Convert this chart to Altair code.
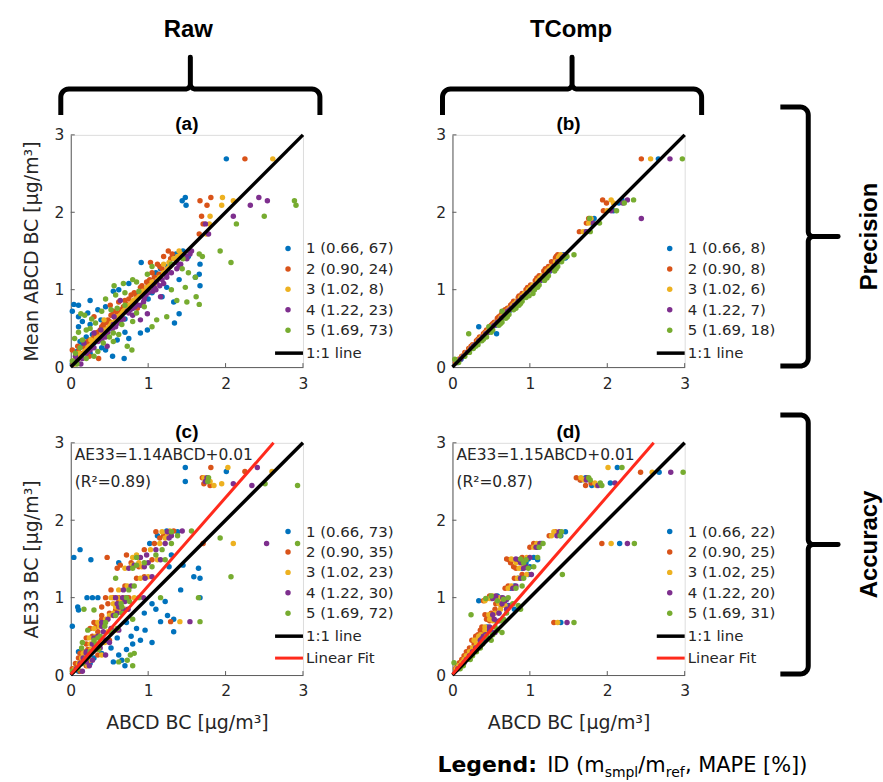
import math
import altair as alt
import pandas as pd

# ---------------- data ----------------
UNIT_IDS = ["1", "2", "3", "4", "5"]
UNIT_COLORS = ["#0072BD", "#D95319", "#EDB120", "#7E2F8E", "#77AC30"]

# (a) Raw, precision: y = mean ABCD BC, one x list per unit
A_Y = [2.69, 2.19, 2.15, 2.09, 1.95, 1.85, 1.72, 1.50, 1.46, 1.40,
       1.35, 1.33, 1.27, 1.22, 1.20, 1.16, 1.10, 1.08, 1.05, 1.03,
       0.98, 0.96, 0.91, 0.86, 0.84, 0.81, 0.80, 0.76, 0.74, 0.72,
       0.69, 0.65, 0.62, 0.61, 0.57, 0.55, 0.52, 0.48, 0.45, 0.44,
       0.39, 0.35, 0.31, 0.27, 0.22, 0.18, 0.14, 0.11, 0.08, 0.04,
       1.43, 1.30, 1.13, 1.00, 0.93, 0.88, 0.78, 0.70, 0.67, 0.59,
       0.50, 0.42, 0.37, 0.33, 0.25, 0.20]
A_U1 = [2.01, 1.48, 1.44, 1.49, None, None, None, 1.45, 1.36, 1.30,
        0.91, 1.67, 1.16, 1.10, 1.66, 1.61, 1.00, 0.75, 1.67, 1.24,
        0.55, 1.05, 1.18, 0.25, 1.33, 0.04, 0.10, 0.80, 0.35, 0.02,
        1.40, 0.10, 0.70, 0.39, 1.34, 0.25, 0.10, 0.99, 0.70, 0.90,
        0.20, 0.60, 0.30, 0.15, 0.45, 0.25, 0.54, 0.69, 0.05, 0.02,
        1.52, 1.25, 1.40, 0.62, 0.85, 1.00, 0.45, 0.22, 0.60, 0.15,
        0.50, 0.28, 0.75, 0.12, 0.40, 0.08]
A_U2 = [2.25, 1.81, 1.67, 1.76, 1.69, 1.71, 1.66, 1.26, 1.31, 1.29,
        1.03, 1.12, 1.18, 1.05, 1.14, 1.08, 0.98, 1.00, 0.92, 0.90,
        0.95, 0.82, 0.85, 0.70, 0.62, 0.72, 0.51, 0.86, 0.65, 0.55,
        0.62, 0.30, 0.58, 0.48, 0.45, 0.42, 0.40, 0.38, 0.35, 0.32,
        0.30, 0.25, 0.20, 0.09, 0.02, 0.12, 0.24, 0.36, 0.05, 0.03,
        1.20, 1.15, 1.02, 0.93, 0.78, 0.75, 0.68, 0.60, 0.52, 0.50,
        0.43, 0.36, 0.30, 0.22, 0.18, 0.10]
A_U3 = [2.61, 1.96, 2.10, 1.95, 1.80, 1.79, 1.75, 1.40, 1.42, 1.33,
        1.27, 1.20, 1.25, 1.20, 1.22, 1.15, 1.05, 1.09, 1.02, 0.98,
        0.93, 0.90, 0.88, 0.81, 0.80, 0.78, 0.75, 0.72, 0.70, 0.68,
        0.66, 0.60, 0.62, 0.43, 0.53, 0.52, 0.50, 0.44, 0.45, 0.40,
        0.36, 0.26, 0.28, 0.24, 0.20, 0.11, 0.12, 0.10, 0.04, 0.05,
        1.38, 1.28, 1.12, 1.00, 0.92, 0.84, 0.76, 0.67, 0.64, 0.57,
        0.48, 0.41, 0.33, 0.30, 0.22, 0.18]
A_U4 = [None, 2.43, 2.54, 2.32, 2.10, 1.74, 1.78, 1.56, 1.54, 1.50,
        1.37, 1.42, 1.37, 1.30, 1.24, 1.24, 1.11, 1.20, 1.15, 1.08,
        1.06, 1.00, 1.16, 0.64, 0.94, 0.85, 0.90, 0.80, 0.77, 0.73,
        0.99, 0.56, 0.68, 0.90, 0.62, 0.55, 0.58, 0.39, 0.48, 0.30,
        0.45, 0.40, 0.17, 0.47, 0.25, 0.20, 0.06, 0.15, 0.08, 0.13,
        1.48, 1.40, 1.18, 1.10, 0.97, 0.95, 0.83, 0.75, 0.80, 0.64,
        0.54, 0.46, 0.40, 0.35, 0.30, 0.22]
A_U5 = [None, None, 2.89, 2.91, 2.50, 2.14, None, 1.93, 1.66, 1.45,
        2.07, 1.30, 1.44, 1.52, 0.99, 1.61, 0.85, 0.68, 0.56, 1.48,
        0.88, 0.70, 1.62, 1.37, 1.50, 1.66, 0.70, 0.60, 0.52, 0.40,
        0.13, 1.24, 0.27, 1.11, 0.32, 0.66, 1.05, 0.20, 0.10, 0.55,
        0.50, 0.15, 0.42, 0.73, 0.79, 0.06, 0.30, 0.20, 0.02, 0.08,
        1.70, 1.05, 0.80, 1.30, 0.58, 0.45, 0.95, 0.85, 0.18, 0.80,
        0.25, 0.62, 0.05, 0.55, 0.12, 0.35]

# (b) TComp, precision
B_Y = [2.69, 2.16, 2.12, 2.02, 1.92, 1.86, 1.75, 1.45, 1.41, 1.36,
       1.30, 1.24, 1.18, 1.12, 1.06, 1.00, 0.95, 0.90, 0.85, 0.80,
       0.76, 0.72, 0.68, 0.63, 0.58, 0.54, 0.52, 0.48, 0.43, 0.39,
       0.34, 0.29, 0.24, 0.19, 0.14, 0.10, 0.06,
       1.43, 1.27, 1.15, 1.03, 0.92, 0.82, 0.74, 0.65, 0.56, 0.45,
       0.36, 0.27]
B_U1 = [2.66, 2.19, 2.15, 2.08, 1.83, 1.80, 1.72, 1.43, 1.46, 1.38,
        1.31, 1.26, 1.20, 1.14, 1.07, 1.02, 0.96, 0.91, 0.86, 0.81,
        0.76, 0.73, 0.69, 0.64, 0.60, 0.56, 0.34, 0.50, 0.57, 0.40,
        0.35, 0.30, 0.25, 0.20, 0.15, 0.11, 0.07,
        1.40, 1.28, 1.16, 1.05, 0.94, 0.84, 0.75, 0.66, 0.57, 0.46,
        0.37, 0.28]
B_U2 = [2.44, 1.94, 1.99, 1.95, 1.76, 1.73, 1.64, 1.36, 1.33, 1.28,
        1.24, 1.18, 1.12, 1.07, 1.01, 0.95, 0.90, 0.85, 0.79, 0.75,
        0.71, 0.66, 0.63, 0.58, 0.54, 0.50, 0.48, 0.44, 0.40, 0.35,
        0.31, 0.26, 0.21, 0.16, 0.12, 0.08, 0.04,
        1.34, 1.20, 1.09, 0.97, 0.86, 0.77, 0.68, 0.60, 0.52, 0.42,
        0.33, 0.24]
B_U3 = [2.56, 2.05, 2.08, 2.00, 1.79, 1.76, 1.69, 1.40, 1.37, 1.33,
        1.28, 1.22, 1.16, 1.10, 1.04, 0.98, 0.93, 0.88, 0.83, 0.78,
        0.74, 0.70, 0.66, 0.62, 0.57, 0.53, 0.50, 0.47, 0.42, 0.38,
        0.33, 0.28, 0.23, 0.18, 0.13, 0.09, 0.05,
        1.38, 1.25, 1.13, 1.01, 0.90, 0.80, 0.72, 0.63, 0.55, 0.44,
        0.35, 0.26]
B_U4 = [2.81, 2.26, 2.20, 2.05, 2.44, 1.82, 1.73, 1.46, 1.42, 1.36,
        1.31, 1.25, 1.19, 1.13, 1.07, 1.01, 0.96, 0.90, 0.85, 0.80,
        0.76, 0.71, 0.68, 0.63, 0.58, 0.54, 0.52, 0.48, 0.43, 0.39,
        0.34, 0.29, 0.24, 0.19, 0.14, 0.10, 0.06,
        1.44, 1.29, 1.17, 1.04, 0.93, 0.83, 0.74, 0.66, 0.57, 0.46,
        0.37, 0.27]
B_U5 = [2.97, 2.34, 2.22, 2.12, 1.77, 1.90, 1.78, 1.57, 1.44, 1.41,
        1.36, 1.32, 1.24, 1.19, 1.12, 1.06, 1.04, 0.95, 0.90, 0.86,
        0.82, 0.64, 0.73, 0.69, 0.64, 0.60, 0.47, 0.52, 0.21, 0.44,
        0.38, 0.33, 0.27, 0.22, 0.16, 0.03, 0.08,
        1.48, 1.34, 1.22, 1.10, 0.99, 0.88, 0.79, 0.71, 0.62, 0.50,
        0.40, 0.30]

# (c) Raw, accuracy: y = AE33 BC
C_Y = [2.68, 2.63, 2.55, 2.50, 2.47, 2.45, 1.86, 1.80, 1.77, 1.70,
       1.70, 1.62, 1.52, 1.49, 1.42, 1.40, 1.27, 1.25, 1.15, 1.00,
       1.00, 1.00, 0.95, 0.88, 0.85, 0.80, 0.72, 0.69, 0.63, 0.60,
       0.56, 0.50, 0.45, 0.40, 0.35, 0.30, 0.26, 0.22, 0.19, 0.15,
       0.12, 0.08, 0.05,
       1.85, 1.55, 1.45, 1.38, 1.10, 1.00, 0.92, 0.84, 0.77, 0.68,
       0.58, 0.48, 0.42, 0.33, 0.28, 0.17]
C_U1 = [1.48, 2.01, None, 1.48, None, None, 1.24, 1.12, None, None,
        1.02, 0.12, 0.04, 0.26, 1.45, 1.27, 1.59, 1.67, None, 0.21,
        0.28, 1.67, 1.22, 0.09, 1.10, 0.95, 1.33, 1.16, 0.02, 0.85,
        1.33, 0.78, 0.90, 0.80, 0.52, 0.10, 0.62, 0.30, 0.66, 0.25,
        0.70, 0.04, 0.10,
        1.38, 1.30, 0.62, 1.65, 1.42, 0.35, 1.05, 0.10, 1.25, 0.72,
        0.96, 0.60, 1.05, 0.72, 0.40, 0.55]
C_U2 = [1.81, 2.25, 1.70, 1.75, 1.72, 1.80, 1.33, 1.20, 1.15, 1.71,
        1.08, 0.95, 0.47, 1.05, 0.64, 0.88, 0.95, 0.85, 0.70, 0.55,
        0.75, 0.45, 0.62, 0.40, 0.66, 0.50, 0.40, 1.29, 0.33, 0.25,
        0.35, 0.28, 0.50, 0.20, 0.30, 0.15, 0.35, 0.10, 0.24, 0.06,
        0.20, 0.02, 0.12,
        1.10, 0.72, 0.78, 0.60, 0.52, 0.62, 0.48, 0.58, 0.40, 0.30,
        0.52, 0.20, 0.38, 0.22, 0.12, 0.14]
C_U3 = [2.03, 2.60, 1.72, 1.80, 1.95, 1.85, 1.28, 1.25, 1.22, 2.10,
        1.15, 1.03, 0.80, 1.12, 0.79, 0.92, 1.00, 0.90, 0.73, 0.60,
        0.82, 0.52, 0.65, 0.58, 0.70, 0.55, 0.45, 1.41, 0.37, 0.30,
        0.48, 0.32, 0.41, 0.25, 0.34, 0.18, 0.40, 0.14, 0.26, 0.10,
        0.22, 0.05, 0.03,
        1.18, 0.85, 0.88, 0.70, 0.62, 0.68, 0.55, 0.63, 0.50, 0.35,
        0.58, 0.24, 0.44, 0.26, 0.16, 0.18]
C_U4 = [2.41, None, 1.76, 1.74, 2.10, 2.34, 1.44, 1.30, 1.27, 2.53,
        1.22, 1.10, 0.90, 1.16, 0.82, 0.95, 1.05, 0.96, 0.78, 0.67,
        0.94, 0.58, 0.70, 0.62, 0.74, 0.60, 0.48, 1.54, 0.40, 0.52,
        0.42, 0.35, 0.45, 0.28, 0.38, 0.20, 0.45, 0.16, 0.28, 0.12,
        0.24, 0.07, 0.15,
        1.25, 0.98, 1.00, 0.75, 0.68, 0.72, 0.60, 0.68, 0.55, 0.40,
        0.62, 0.30, 0.50, 0.30, 0.20, 0.20]
C_U5 = [None, None, 1.78, 1.77, 2.51, 2.93, 1.56, 1.38, 1.93, 2.93,
        1.30, 1.18, 0.85, 1.22, 0.85, 1.05, 2.07, 0.58, 0.82, 0.72,
        1.16, 1.65, 0.76, 0.66, 0.17, 0.66, 0.80, 1.67, 0.44, 0.60,
        0.52, 0.38, 0.30, 0.33, 0.14, 0.25, 0.77, 0.20, 0.73, 0.15,
        0.80, 0.09, 0.02,
        1.30, 1.10, 0.95, 0.80, 0.75, 0.88, 0.65, 0.30, 0.58, 0.45,
        0.22, 0.35, 0.15, 0.36, 0.82, 0.62]

# (d) TComp, accuracy
D_Y = [2.68, 2.62, 2.55, 2.52, 2.48, 2.45, 1.85, 1.80, 1.70, 1.70,
       1.65, 1.52, 1.49, 1.45, 1.40, 1.30, 1.25, 1.12, 1.00, 0.99,
       0.96, 0.90, 0.85, 0.78, 0.70, 0.68, 0.62, 0.55, 0.50, 0.45,
       0.40, 0.35, 0.30, 0.25, 0.20, 0.16, 0.12, 0.08,
       1.50, 1.38, 1.15, 1.02, 0.98, 0.92, 0.80, 0.72, 0.58, 0.52,
       0.47]
D_U1 = [2.13, 2.67, 1.72, 1.66, 2.04, 1.80, 1.46, 1.40, 2.16, 1.15,
        1.10, 1.05, 1.10, 0.95, 1.00, 0.98, 0.85, 0.75, 0.62, 0.50,
        0.34, 0.72, 0.80, 0.50, 0.55, 1.40, 0.45, 0.52, 0.35, 0.42,
        0.34, 0.30, 0.26, 0.21, 0.17, 0.14, 0.10, 0.06,
        0.98, 0.90, 0.80, 0.58, 0.70, 0.62, 0.60, 0.50, 0.45, 0.40,
        0.36]
D_U2 = [None, 2.43, 1.60, 1.65, 1.79, 1.72, 1.33, 1.25, 1.93, 1.05,
        1.00, 0.90, 0.73, 0.75, 0.79, 0.90, 0.80, 0.68, 0.55, 0.45,
        0.40, 0.63, 0.55, 0.42, 0.48, 1.31, 0.38, 0.40, 0.30, 0.25,
        0.28, 0.22, 0.18, 0.15, 0.12, 0.09, 0.06, 0.04,
        0.70, 0.82, 0.72, 0.48, 0.60, 0.56, 0.50, 0.44, 0.36, 0.33,
        0.30]
D_U3 = [2.01, 2.58, 1.66, 1.70, 1.84, 1.86, 1.31, 1.28, 2.05, 1.09,
        1.05, 0.96, 0.80, 0.82, 0.92, 0.96, 0.84, 0.72, 0.60, 0.48,
        0.42, 0.68, 0.62, 0.47, 0.52, 1.36, 0.42, 0.46, 0.34, 0.28,
        0.31, 0.26, 0.22, 0.18, 0.15, 0.12, 0.08, 0.05,
        0.76, 0.86, 0.76, 0.52, 0.64, 0.60, 0.55, 0.48, 0.42, 0.37,
        0.33]
D_U4 = [None, 2.82, 1.74, 1.73, 2.10, 1.88, 1.38, 1.35, 2.26, 1.13,
        1.08, 1.00, 0.86, 0.88, 0.95, 1.02, 0.88, 0.78, 0.65, 0.52,
        0.68, 0.75, 0.70, 0.52, 0.60, 1.48, 0.48, 0.55, 0.40, 0.36,
        0.36, 0.30, 0.26, 0.22, 0.18, 0.15, 0.11, 0.07,
        0.82, 0.92, 0.82, 0.56, 0.70, 0.64, 0.60, 0.54, 0.48, 0.43,
        0.38]
D_U5 = [2.19, 2.98, 1.76, 1.78, 1.91, 1.93, 1.41, 1.39, 2.35, 1.17,
        1.12, 1.10, 0.95, 0.92, 1.05, 1.42, 0.92, 0.82, 0.72, 0.43,
        0.58, 0.85, 0.88, 0.24, 0.62, 1.57, 0.55, 0.64, 0.44, 0.50,
        0.39, 0.36, 0.31, 0.26, 0.23, 0.02, 0.14, 0.10,
        0.88, 0.98, 0.90, 0.50, 0.66, 0.78, 0.70, 0.66, 0.58, 0.52,
        0.45]

LEG_A = ["1 (0.66, 67)", "2 (0.90, 24)", "3 (1.02, 8)", "4 (1.22, 23)", "5 (1.69, 73)"]
LEG_B = ["1 (0.66, 8)", "2 (0.90, 8)", "3 (1.02, 6)", "4 (1.22, 7)", "5 (1.69, 18)"]
LEG_C = ["1 (0.66, 73)", "2 (0.90, 35)", "3 (1.02, 23)", "4 (1.22, 30)", "5 (1.69, 72)"]
LEG_D = ["1 (0.66, 22)", "2 (0.90, 25)", "3 (1.02, 25)", "4 (1.22, 20)", "5 (1.69, 31)"]
LINE_LABELS = ["1:1 line", "Linear Fit"]

ONE_X = [0, 3]
ONE_Y = [0, 3]
FIT_C_X = [0, 2.62]
FIT_C_Y = [0.01, 3.0]
FIT_D_X = [0, 2.60]
FIT_D_Y = [0.01, 3.0]
EQ_C = ["AE33=1.14ABCD+0.01", "(R\u00b2=0.89)"]
EQ_D = ["AE33=1.15ABCD+0.01", "(R\u00b2=0.87)"]
TICKS = [0, 1, 2, 3]
INNER_TICKS = [1, 2, 3]

PANEL_TAGS = ["(a)", "(b)", "(c)", "(d)"]
Y_TITLE_TOP = "Mean ABCD BC [\u03bcg/m\u00b3]"
Y_TITLE_BOT = "AE33 BC [\u03bcg/m\u00b3]"
X_TITLE = "ABCD BC [\u03bcg/m\u00b3]"
COL_HEADS = ["Raw", "TComp"]
ROW_HEADS = ["Precision", "Accuracy"]
FOOT = ["Legend:", "ID (m", "smpl", "/m", "ref", ", MAPE [%])"]

# ---------------- styling / layout ----------------
FONT = "DejaVu Sans"
HFONT = "Liberation Sans"
TXT = "#262626"
AXC = "#5c5c5c"
W = 233
H = 233
OX, OY = 70, 133          # page position of panel (a)'s plot origin
ONE = pd.DataFrame({"o": [0]})
DOT = 30


def long_table(ys, *units):
    recs = []
    for k, xs in enumerate(units):
        for y, x in zip(ys, xs):
            if x is not None:
                recs.append({"x": x, "y": y, "unit": UNIT_IDS[k], "k": k})
    return pd.DataFrame(recs)


def color_enc():
    return alt.Color("unit:N", scale=alt.Scale(domain=UNIT_IDS, range=UNIT_COLORS), legend=None)


def x_enc(field, title):
    return alt.X(f"{field}:Q", scale=alt.Scale(domain=[0, 3], nice=False, zero=False),
                 title=title,
                 axis=alt.Axis(values=TICKS, format="d", ticks=False, grid=False,
                               domainColor=AXC, domainWidth=1,
                               labelFont=FONT, labelFontSize=15.5, labelColor=TXT,
                               labelPadding=9, labelAngle=0, labelFlush=False,
                               labelOverlap=False,
                               titleFont=FONT, titleFontSize=19, titleFontWeight="normal",
                               titleColor=TXT, titlePadding=14))


def y_enc(field, title):
    return alt.Y(f"{field}:Q", scale=alt.Scale(domain=[0, 3], nice=False, zero=False),
                 title=title,
                 axis=alt.Axis(values=TICKS, format="d", ticks=False, grid=False,
                               domainColor=AXC, domainWidth=1,
                               labelFont=FONT, labelFontSize=15.5, labelColor=TXT,
                               labelPadding=7, labelFlush=False, labelOverlap=False,
                               titleFont=FONT, titleFontSize=19, titleFontWeight="normal",
                               titleColor=TXT, titlePadding=13))


def vtext(x, y, s, **kw):
    style = dict(font=FONT, fontSize=15.5, color=TXT, align="left", baseline="middle")
    style.update(kw)
    return alt.Chart(ONE).mark_text(**style).encode(
        x=alt.value(x), y=alt.value(y), text=alt.value(s))


def make_panel(tag, df, labels, xt, yt, fit=None, eq=None, extra=()):
    layers = []
    layers.append(alt.Chart(df).mark_circle(size=DOT, opacity=1).encode(
        x=x_enc("x", xt), y=y_enc("y", yt), color=color_enc(), order=alt.Order("k:Q")))
    layers.append(alt.Chart(pd.DataFrame({"x": ONE_X, "y": ONE_Y})).mark_line(
        color="black", strokeWidth=3.5).encode(x=x_enc("x", xt), y=y_enc("y", yt)))
    if fit is not None:
        layers.append(alt.Chart(pd.DataFrame({"x": fit[0], "y": fit[1]})).mark_line(
            color="#FF2A1C", strokeWidth=3).encode(x=x_enc("x", xt), y=y_enc("y", yt)))
    # inward ticks
    layers.append(alt.Chart(pd.DataFrame({"x": INNER_TICKS})).mark_rule(
        color=AXC, strokeWidth=1).encode(x=x_enc("x", xt), y=alt.value(H), y2=alt.value(H - 4)))
    layers.append(alt.Chart(pd.DataFrame({"y": INNER_TICKS})).mark_rule(
        color=AXC, strokeWidth=1).encode(y=y_enc("y", yt), x=alt.value(0), x2=alt.value(4)))
    # panel tag
    layers.append(vtext(W / 2, -11, tag, font=HFONT, fontWeight="bold", fontSize=19,
                        color="black", align="center"))
    # legend
    start = 89 if fit is not None else 114
    step = 20.5
    leg = pd.DataFrame({"label": labels, "unit": UNIT_IDS,
                        "ly": [start + step * i for i in range(len(labels))]})
    layers.append(alt.Chart(leg).mark_circle(size=DOT, opacity=1).encode(
        x=alt.value(218), y=alt.Y("ly:Q", scale=None), color=color_enc()))
    layers.append(alt.Chart(leg).mark_text(
        font=FONT, fontSize=15, color=TXT, align="left", baseline="middle").encode(
        x=alt.value(236), y=alt.Y("ly:Q", scale=None), text="label:N"))
    ly = start + step * 4 + 23
    layers.append(alt.Chart(ONE).mark_rule(color="black", strokeWidth=3.5).encode(
        x=alt.value(205), x2=alt.value(233), y=alt.value(ly)))
    layers.append(vtext(236, ly, LINE_LABELS[0], fontSize=15))
    if fit is not None:
        ly2 = ly + 22
        layers.append(alt.Chart(ONE).mark_rule(color="#FF2A1C", strokeWidth=3).encode(
            x=alt.value(205), x2=alt.value(233), y=alt.value(ly2)))
        layers.append(vtext(236, ly2, LINE_LABELS[1], fontSize=15))
    if eq is not None:
        layers.append(vtext(4, 12, eq[0], fontSize=15.5))
        layers.append(vtext(4, 39, eq[1], fontSize=15.5))
    layers.extend(extra)
    return alt.layer(*layers).properties(width=W, height=H)


def brace_pts(p0, p1, qbar, qend, qtip, r=8.0, rt=5.0, n=8):
    s = 1 if qend > qbar else -1
    pm = (p0 + p1) / 2
    pts = [(p0, qend)]
    for k in range(n + 1):
        t = k / n * math.pi / 2
        pts.append((p0 + r - r * math.cos(t), qbar + s * r - s * r * math.sin(t)))
    for k in range(n + 1):
        t = k / n * math.pi / 2
        pts.append((pm - rt + rt * math.sin(t), qbar - s * rt + s * rt * math.cos(t)))
    pts.append((pm, qtip))
    for k in range(n + 1):
        t = k / n * math.pi / 2
        pts.append((pm + rt - rt * math.cos(t), qbar - s * rt + s * rt * math.sin(t)))
    for k in range(n + 1):
        t = k / n * math.pi / 2
        pts.append((p1 - r + r * math.sin(t), qbar + s * r - s * r * math.cos(t)))
    pts.append((p1, qend))
    return pts


# brace anchors in page pixels: kind, start, end, bar, ends, tip
BRACES = [("h", 60, 320, 87, 113, 55), ("h", 443, 703, 87, 113, 55),
          ("v", 105, 365, 810, 782, 840), ("v", 414, 674, 810, 782, 840)]
brows = []
for bid, (kind, p0, p1, qb, qe, qt) in enumerate(BRACES):
    pts = brace_pts(p0, p1, qb, qe, qt)
    for i, (p, q) in enumerate(pts):
        x, y = (p, q) if kind == "h" else (q, p)
        brows.append({"b": bid, "i": i, "px": x - OX, "py": y - OY})
brace_df = pd.DataFrame(brows)

deco = [
    alt.Chart(brace_df).mark_line(color="black", strokeWidth=5, strokeJoin="round",
                                  strokeCap="butt").encode(
        x=alt.X("px:Q", scale=None), y=alt.Y("py:Q", scale=None),
        detail="b:N", order="i:Q"),
    vtext(188 - OX, 28 - OY, COL_HEADS[0], font=HFONT, fontWeight="bold", fontSize=24,
          color="black", align="center"),
    vtext(572 - OX, 28 - OY, COL_HEADS[1], font=HFONT, fontWeight="bold", fontSize=24,
          color="black", align="center"),
    vtext(872 - OX, 235 - OY, ROW_HEADS[0], font=HFONT, fontWeight="bold", fontSize=24,
          color="black", align="center", angle=270),
    vtext(872 - OX, 544 - OY, ROW_HEADS[1], font=HFONT, fontWeight="bold", fontSize=24,
          color="black", align="center", angle=270),
    # footer "Legend: ID (m_smpl/m_ref, MAPE [%])"
    vtext(438 - OX, 772 - OY, FOOT[0], font=FONT, fontWeight="bold", fontSize=22,
          color="black", baseline="alphabetic"),
    vtext(548 - OX, 772 - OY, FOOT[1], fontSize=21, color="black", baseline="alphabetic"),
    vtext(605.7 - OX, 777 - OY, FOOT[2], fontSize=14, color="black", baseline="alphabetic"),
    vtext(639.4 - OX, 772 - OY, FOOT[3], fontSize=21, color="black", baseline="alphabetic"),
    vtext(667 - OX, 777 - OY, FOOT[4], fontSize=14, color="black", baseline="alphabetic"),
    vtext(686.3 - OX, 772 - OY, FOOT[5], fontSize=21, color="black", baseline="alphabetic"),
    # invisible frame fixing the page extent
    alt.Chart(ONE).mark_rule(opacity=0, strokeWidth=0.01, color="white").encode(
        x=alt.value(-OX), x2=alt.value(883 - OX), y=alt.value(-OY), y2=alt.value(782 - OY)),
]

pa = make_panel(PANEL_TAGS[0], long_table(A_Y, A_U1, A_U2, A_U3, A_U4, A_U5), LEG_A,
                None, Y_TITLE_TOP, extra=deco)
pb = make_panel(PANEL_TAGS[1], long_table(B_Y, B_U1, B_U2, B_U3, B_U4, B_U5), LEG_B,
                None, None)
pc = make_panel(PANEL_TAGS[2], long_table(C_Y, C_U1, C_U2, C_U3, C_U4, C_U5), LEG_C,
                X_TITLE, Y_TITLE_BOT, fit=(FIT_C_X, FIT_C_Y), eq=EQ_C)
pd_ = make_panel(PANEL_TAGS[3], long_table(D_Y, D_U1, D_U2, D_U3, D_U4, D_U5), LEG_D,
                 X_TITLE, None, fit=(FIT_D_X, FIT_D_Y), eq=EQ_D)

chart = alt.concat(pa, pb, pc, pd_, columns=2, spacing={"row": 76, "column": 150},
                   bounds="flush", padding=0).configure_view(
    stroke=None).configure(background="white")

chart.save("out.html", embed_options={"renderer": "svg", "actions": False})
